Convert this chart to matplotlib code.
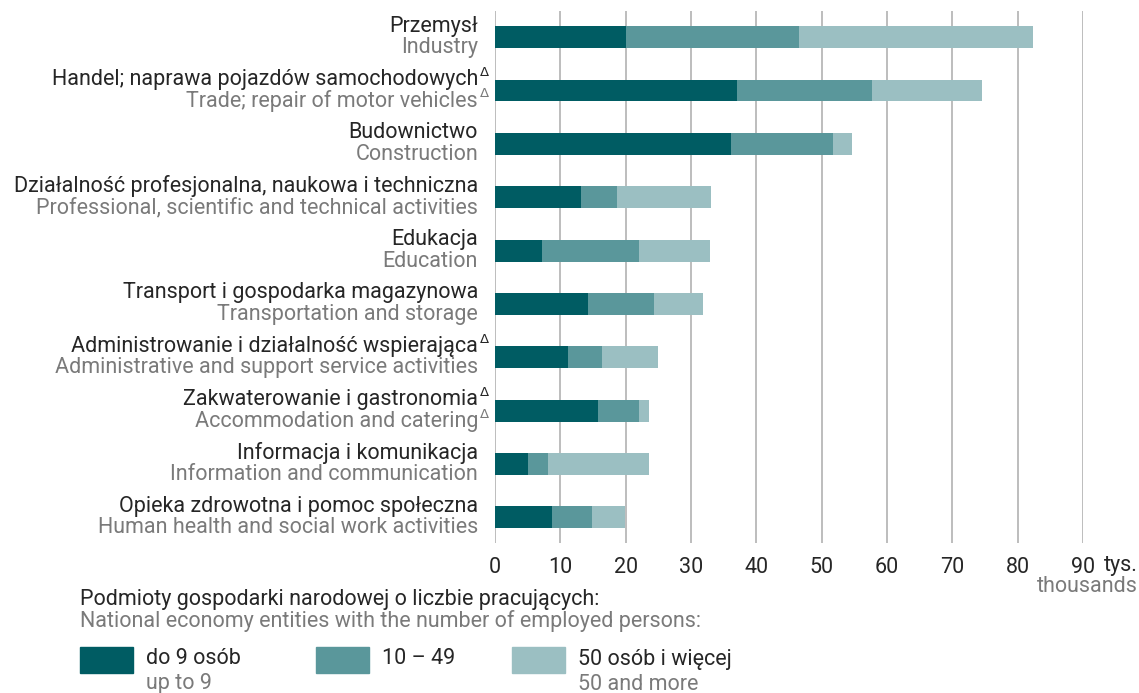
import matplotlib.pyplot as plt
import matplotlib.transforms as mtransforms
from matplotlib.patches import Rectangle
import numpy as np

plt.rcParams['font.family'] = ['Roboto', 'DejaVu Sans']

# Data (thousands)
labels_pl = ['Przemysł', 'Handel; naprawa pojazdów samochodowych', 'Budownictwo',
             'Działalność profesjonalna, naukowa i techniczna', 'Edukacja',
             'Transport i gospodarka magazynowa', 'Administrowanie i działalność wspierająca',
             'Zakwaterowanie i gastronomia', 'Informacja i komunikacja',
             'Opieka zdrowotna i pomoc społeczna']
labels_en = ['Industry', 'Trade; repair of motor vehicles', 'Construction',
             'Professional, scientific and technical activities', 'Education',
             'Transportation and storage', 'Administrative and support service activities',
             'Accommodation and catering', 'Information and communication',
             'Human health and social work activities']
delta_pl = [False, True, False, False, False, False, True, True, False, False]
delta_en = [False, True, False, False, False, False, False, True, False, False]

small = [20.0, 37.1, 36.1, 13.1, 7.2, 14.2, 11.1, 15.8, 5.0, 8.8]
medium = [26.5, 20.6, 15.6, 5.5, 14.8, 10.2, 5.3, 6.3, 3.1, 6.0]
large = [35.8, 16.8, 2.9, 14.5, 10.9, 7.4, 8.5, 1.5, 15.5, 5.1]

series_names = [('do 9 osób', 'up to 9'), ('10 – 49', ''), ('50 osób i więcej', '50 and more')]
colors = ['#005c63', '#5a979b', '#9bbfc2']
dark = '#262626'
grey = '#7a7a7a'
fs = 15.5

W, H = 1139, 693
fig = plt.figure(figsize=(W / 100, H / 100), dpi=100)
ax = fig.add_axes([495 / W, 1 - 543 / H, 588 / W, 532 / H])

y = np.arange(len(labels_pl))
small = np.array(small)
medium = np.array(medium)
large = np.array(large)
ax.barh(y, small, height=0.41, color=colors[0], zorder=3)
ax.barh(y, medium, left=small, height=0.41, color=colors[1], zorder=3)
ax.barh(y, large, left=small + medium, height=0.41, color=colors[2], zorder=3)

ax.set_xlim(0, 90)
ax.set_ylim(9.48, -0.49)
ax.set_xticks(range(0, 91, 10))
ax.tick_params(axis='x', length=0, pad=10, labelsize=fs, labelcolor=dark)
ax.set_yticks([])
for s in ax.spines.values():
    s.set_visible(False)
ax.grid(axis='x', color='#bdbdbd', linewidth=1.4, zorder=0)
ax.set_axisbelow(True)

# category labels, two languages
blend = mtransforms.blended_transform_factory(fig.transFigure, ax.transData)
for i in range(len(labels_pl)):
    t_pl = mtransforms.offset_copy(blend, fig=fig, x=0, y=8, units='points')
    t_en = mtransforms.offset_copy(blend, fig=fig, x=0, y=-7.5, units='points')
    ax.text(478 / W, i, labels_pl[i], transform=t_pl, ha='right', va='center',
            fontsize=fs, color=dark)
    ax.text(478 / W, i, labels_en[i], transform=t_en, ha='right', va='center',
            fontsize=fs, color=grey)
    if delta_pl[i]:
        td = mtransforms.offset_copy(blend, fig=fig, x=0, y=13, units='points')
        ax.text(480 / W, i, 'Δ', transform=td, ha='left', va='center',
                fontsize=9.5, color=dark, family='DejaVu Sans')
    if delta_en[i]:
        td = mtransforms.offset_copy(blend, fig=fig, x=0, y=-2.5, units='points')
        ax.text(480 / W, i, 'Δ', transform=td, ha='left', va='center',
                fontsize=9.5, color=grey, family='DejaVu Sans')

fig.text(1138 / W, 1 - 566 / H, 'tys.', ha='right', va='center', fontsize=fs, color=dark)
fig.text(1138 / W, 1 - 587 / H, 'thousands', ha='right', va='center', fontsize=fs, color=grey)

# legend
fig.text(80 / W, 1 - 600 / H, 'Podmioty gospodarki narodowej o liczbie pracujących:',
         ha='left', va='center', fontsize=fs, color=dark)
fig.text(80 / W, 1 - 621 / H, 'National economy entities with the number of employed persons:',
         ha='left', va='center', fontsize=fs, color=grey)
xs = [80, 316, 512]
for k, (pl, en) in enumerate(series_names):
    fig.patches.append(Rectangle((xs[k] / W, 1 - 673 / H), 53 / W, 26 / H,
                                 transform=fig.transFigure, color=colors[k]))
    fig.text((xs[k] + 66) / W, 1 - 659 / H, pl, ha='left', va='center', fontsize=fs, color=dark)
    if en:
        fig.text((xs[k] + 66) / W, 1 - 684 / H, en, ha='left', va='center', fontsize=fs, color=grey)

fig.savefig('out.png', dpi=100)
